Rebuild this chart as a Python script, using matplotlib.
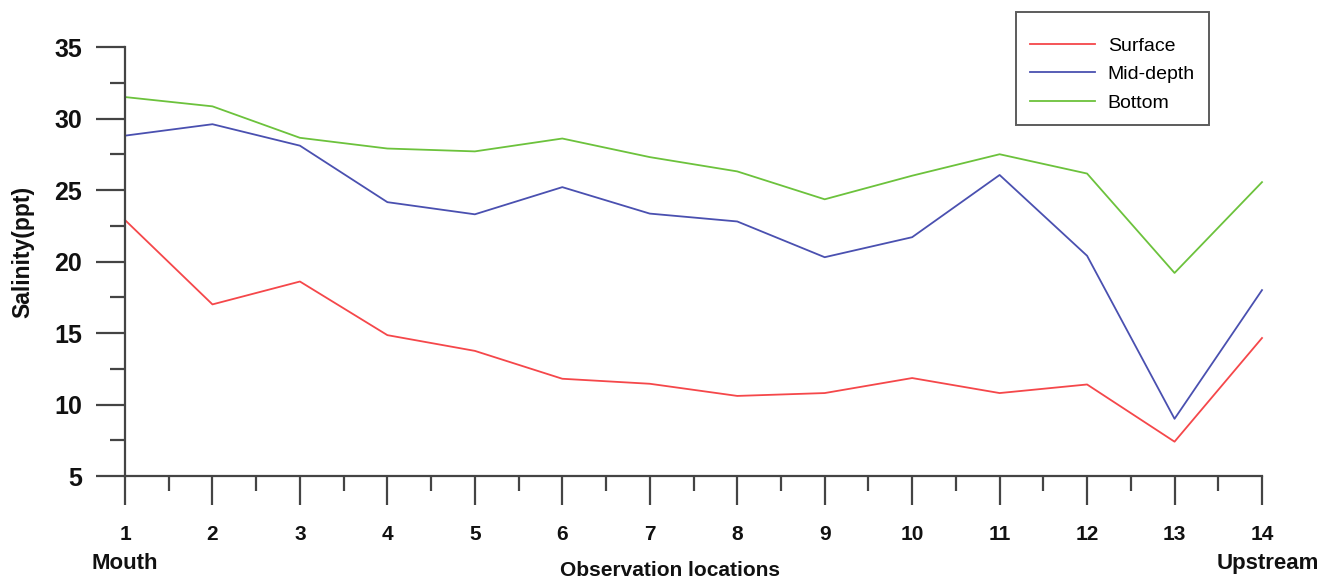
import matplotlib
matplotlib.use("Agg")
import matplotlib.pyplot as plt
from matplotlib.ticker import MultipleLocator

plt.rcParams['font.family'] = ['Liberation Sans', 'DejaVu Sans']

locations = list(range(1, 15))
surface = [22.9, 17.0, 18.6, 14.85, 13.75, 11.8, 11.45, 10.6, 10.8, 11.85, 10.8, 11.4, 7.4, 14.65]
mid_depth = [28.8, 29.6, 28.1, 24.15, 23.3, 25.2, 23.35, 22.8, 20.3, 21.7, 26.05, 20.4, 9.0, 18.0]
bottom = [31.5, 30.85, 28.65, 27.9, 27.7, 28.6, 27.3, 26.3, 24.35, 26.0, 27.5, 26.15, 19.2, 25.55]
series_names = ["Surface", "Mid-depth", "Bottom"]
colors = ["#f5474a", "#4a50b0", "#6cc23c"]

W, H = 1325, 583
fig = plt.figure(figsize=(W / 100, H / 100), dpi=100)
ax = fig.add_axes([125 / W, 1 - 476 / H, (1262 - 125) / W, (476 - 47) / H])

for vals, name, c in zip([surface, mid_depth, bottom], series_names, colors):
    ax.plot(locations, vals, color=c, lw=1.3, label=name, clip_on=False)

ax.set_xlim(1, 14)
ax.set_ylim(5, 35)
ax.xaxis.set_major_locator(MultipleLocator(1))
ax.xaxis.set_minor_locator(MultipleLocator(0.5))
ax.yaxis.set_major_locator(MultipleLocator(5))
ax.yaxis.set_minor_locator(MultipleLocator(2.5))

axcol = "#444444"
for s in ["top", "right"]:
    ax.spines[s].set_visible(False)
for s in ["left", "bottom"]:
    ax.spines[s].set_color(axcol)
    ax.spines[s].set_linewidth(1.6)

ax.tick_params(axis="both", which="major", length=21, width=1.6, color=axcol, direction="out")
ax.tick_params(axis="both", which="minor", length=10.5, width=1.6, color=axcol, direction="out")
ax.tick_params(axis="y", which="major", pad=10, labelsize=18)
ax.tick_params(axis="x", which="major", pad=14, labelsize=15)
for lbl in ax.get_xticklabels() + ax.get_yticklabels():
    lbl.set_fontweight("bold")
    lbl.set_color("#111111")

ax.text(1, -0.18, "Mouth", transform=ax.get_xaxis_transform(), ha="center", va="top",
        fontsize=16, fontweight="bold", color="#111111")
ax.text(14.07, -0.18, "Upstream", transform=ax.get_xaxis_transform(), ha="center", va="top",
        fontsize=16, fontweight="bold", color="#111111")
fig.text(670 / W, 1 - 571 / H, "Observation locations", ha="center", va="center",
         fontsize=15, fontweight="bold", color="#111111")
fig.text(23 / W, 1 - 252 / H, "Salinity(ppt)", ha="center", va="center", rotation=90,
         fontsize=16.5, fontweight="bold", color="#111111")

leg = ax.legend(loc="upper left", bbox_to_anchor=(1016 / W, 1 - 12 / H), bbox_transform=fig.transFigure,
                fontsize=14, frameon=True, fancybox=False, borderpad=0.7, handlelength=3.35,
                handletextpad=0.67, labelspacing=0.55, borderaxespad=0,
                title=" ", title_fontsize=1)
leg.get_frame().set_edgecolor("#333333")
leg.get_frame().set_linewidth(1.4)

fig.savefig("out.png", dpi=100)
